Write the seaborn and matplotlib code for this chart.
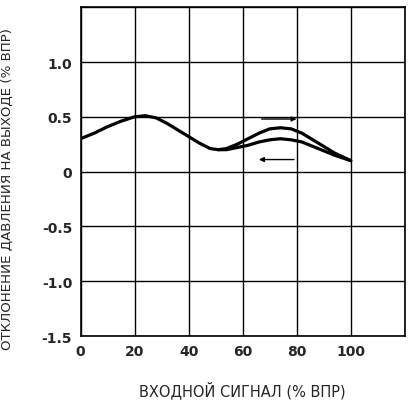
import matplotlib
matplotlib.use("Agg")
import matplotlib.pyplot as plt
import seaborn as sns
import pandas as pd

# upward stroke (common part 0..50 then upper branch)
x_up = [0, 5, 10, 15, 20, 24, 28, 32, 36, 40, 44, 48, 51, 54, 58, 62, 66, 70, 74, 78, 82, 86, 90, 94, 100]
y_up = [0.30, 0.35, 0.41, 0.46, 0.50, 0.51, 0.49, 0.44, 0.38, 0.32, 0.26, 0.21, 0.20, 0.21, 0.25, 0.30, 0.35, 0.39, 0.40, 0.39, 0.35, 0.29, 0.23, 0.17, 0.10]
# downward stroke (lower branch)
x_down = [100, 94, 90, 86, 82, 78, 74, 70, 66, 62, 58, 54, 51]
y_down = [0.10, 0.15, 0.19, 0.23, 0.27, 0.29, 0.30, 0.29, 0.27, 0.24, 0.22, 0.20, 0.20]

xticks = [0, 20, 40, 60, 80, 100]
yticks = [-1.5, -1.0, -0.5, 0, 0.5, 1.0]
ytick_labels = ["-1.5", "-1.0", "-0.5", "0", "0.5", "1.0"]

sns.set_style("white")
plt.rcParams['font.family'] = ['DejaVu Sans']

fig, ax = plt.subplots(figsize=(4.13, 4.10), dpi=100)
fig.subplots_adjust(left=0.195, right=0.98, top=0.98, bottom=0.178)

df_up = pd.DataFrame({"x": x_up, "y": y_up})
df_down = pd.DataFrame({"x": x_down, "y": y_down})
sns.lineplot(data=df_up, x="x", y="y", ax=ax, color="black", lw=2.3, sort=False)
sns.lineplot(data=df_down, x="x", y="y", ax=ax, color="black", lw=2.3, sort=False)

ax.annotate("", xy=(81, 0.48), xytext=(66, 0.48),
            arrowprops=dict(arrowstyle="-|>", color="black", lw=1.0, mutation_scale=7))
ax.annotate("", xy=(65, 0.11), xytext=(80, 0.11),
            arrowprops=dict(arrowstyle="-|>", color="black", lw=1.0, mutation_scale=7))

ax.set_xlim(0, 120)
ax.set_ylim(-1.5, 1.5)
ax.set_xticks(xticks + [120])
ax.set_xticklabels([str(v) for v in xticks] + [""])
ax.set_yticks(yticks + [1.5])
ax.set_yticklabels(ytick_labels + [""])
ax.grid(True, color="black", lw=1.0)
for s in ax.spines.values():
    s.set_color("black")
    s.set_linewidth(1.2)
ax.tick_params(length=0, labelsize=10, pad=6)
for lab in ax.get_xticklabels() + ax.get_yticklabels():
    lab.set_fontweight("bold")
ax.set_xlabel("ВХОДНОЙ СИГНАЛ (% ВПР)", fontsize=10.5, labelpad=16)
ax.set_ylabel("ОТКЛОНЕНИЕ ДАВЛЕНИЯ НА ВЫХОДЕ (% ВПР)", fontsize=9.6, labelpad=10)
ax.yaxis.set_label_coords(-0.205, 0.45)

fig.savefig("out.png", dpi=100)
